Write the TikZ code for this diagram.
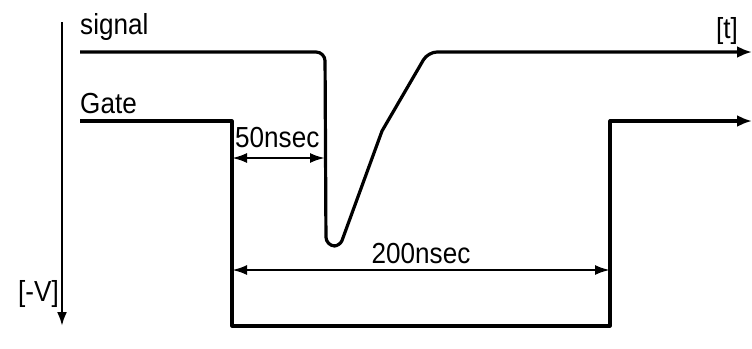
\documentclass[tikz,border=0pt]{standalone}
\usepackage{fontspec}
\setmainfont{Liberation Sans}[FakeStretch=0.9]
\usetikzlibrary{arrows.meta}

\tikzset{
    wave/.style={line width=3.2pt, line join=round},
    dim/.style={line width=2.4pt, {Latex[length=15pt,width=10pt]}-{Latex[length=15pt,width=10pt]}},
    lbl/.style={inner sep=0pt, anchor=base west, font=\fontsize{29}{31}\selectfont}
}

\begin{document}
\begin{tikzpicture}[x=1pt, y=-1pt]
    \useasboundingbox (0,0) rectangle (752,348);
    % axis
    \coordinate (vtop) at (62,22);
    \coordinate (vbot) at (62,326);
    \draw[line width=2.4pt, -{Latex[length=14pt,width=10pt]}] (vtop) -- (vbot);
    % signal
    \coordinate (s0) at (80,52);
    \coordinate (s1) at (325,52);
    \coordinate (s2) at (326,246);
    \coordinate (s3) at (340,246);
    \coordinate (s4) at (382,131);
    \coordinate (s5) at (428,52);
    \coordinate (s6) at (752,52);
    \draw[wave, rounded corners=9pt, -{Latex[length=15pt,width=12pt]}]
        (s0) -- (s1) -- (s2) [rounded corners=6pt] -- (s3) [rounded corners=0pt] -- (s4)
        [rounded corners=9pt] -- (s5) [rounded corners=0pt] -- (s6);
    % gate
    \coordinate (g0) at (80,121);
    \coordinate (g1) at (232,121);
    \coordinate (g2) at (232,326);
    \coordinate (g3) at (610,326);
    \coordinate (g4) at (610,121);
    \coordinate (g5) at (752,121);
    \draw[wave, -{Latex[length=15pt,width=12pt]}] (g0) -- (g1) -- (g2) -- (g3) -- (g4) -- (g5);
    % dimensions
    \coordinate (d50a) at (232,158);
    \coordinate (d50b) at (325,158);
    \draw[dim] (d50a) -- (d50b);
    \coordinate (d200a) at (232,270);
    \coordinate (d200b) at (610,270);
    \draw[dim] (d200a) -- (d200b);
    % labels
    \node[lbl] (signal) at (80,34) {signal};
    \node[lbl] (gate) at (80,113) {Gate};
    \node[lbl] (t) at (716,38) {[t]};
    \node[lbl] (volt) at (18,301) {[-V]};
    \node[lbl] (n50) at (235,147) {50nsec};
    \node[lbl, anchor=base] (n200) at (421,263) {200nsec};
\end{tikzpicture}
\end{document}
